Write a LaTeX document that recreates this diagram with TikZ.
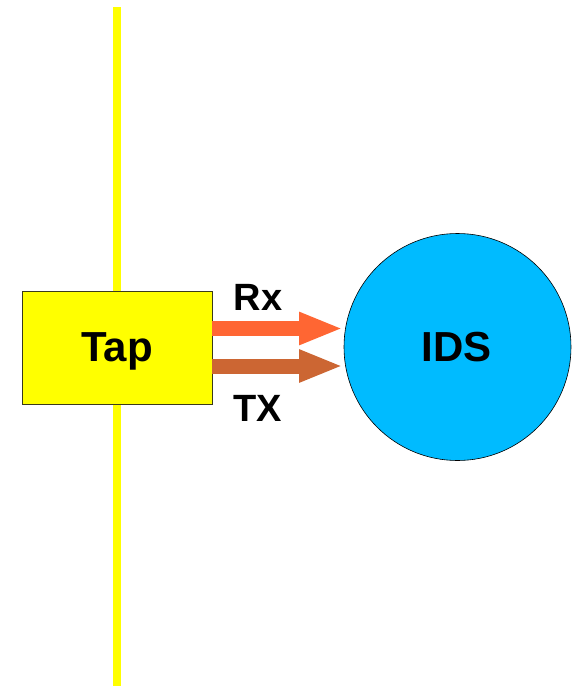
\documentclass[tikz,border=0pt]{standalone}
\usepackage{fontspec}
\setmainfont{Liberation Sans}
\usetikzlibrary{arrows.meta}
\definecolor{tapyellow}{HTML}{FFFF00}
\definecolor{idsblue}{HTML}{00BBFF}
\definecolor{rxcol}{HTML}{FF6633}
\definecolor{txcol}{HTML}{CC6633}
\definecolor{boxline}{HTML}{3A3A1A}
\begin{document}
\begin{tikzpicture}[x=1pt,y=-1pt,
  wire/.style={draw=tapyellow,line width=8pt},
  tapbox/.style={draw=boxline,fill=tapyellow,line width=0.8pt,minimum width=190pt,minimum height=113pt,inner sep=0pt},
  idscircle/.style={circle,draw=black,fill=idsblue,line width=0.6pt,minimum size=227pt,inner sep=0pt},
  bigtext/.style={font=\fontsize{42}{42}\selectfont\bfseries},
  flow/.style={line width=15pt,-{Triangle[length=44pt,width=30pt]}}]
\useasboundingbox (0,0) rectangle (572,686);
\coordinate (wtop) at (117,7);
\coordinate (wbot) at (117,686);
\draw[wire] (wtop) -- (wbot);
\node[tapbox] (tap) at (117,347.5) {};
\node[idscircle] (ids) at (457.5,347) {};
\node[bigtext,anchor=base] (taplbl) at (117,361) {Tap};
\node[bigtext,anchor=base] (idslbl) at (457,361) {IDS};
\node[font=\fontsize{38}{38}\selectfont\bfseries,anchor=base] (rxlbl) at (258,310) {Rx};
\node[font=\fontsize{38}{38}\selectfont\bfseries,anchor=base] (txlbl) at (258,421) {TX};
\draw[flow,draw=rxcol,fill=rxcol] (tap.east |- 0,328.5) -- (343,328.5) coordinate (rxend);
\draw[flow,draw=txcol,fill=txcol] (tap.east |- 0,366) -- (343,366) coordinate (txend);
\end{tikzpicture}
\end{document}
